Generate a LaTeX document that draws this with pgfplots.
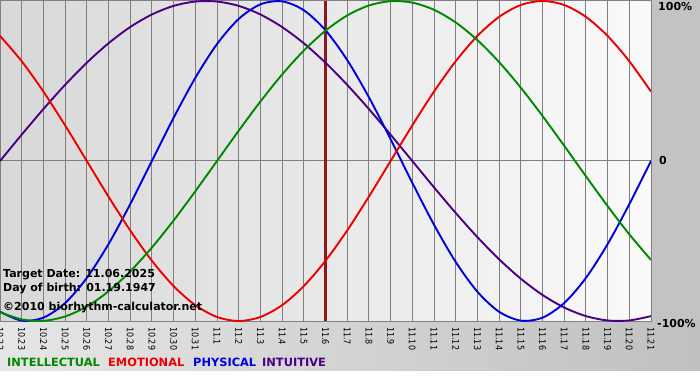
\documentclass[border=0pt]{standalone}
\usepackage{pgfplots}
\pgfplotsset{compat=1.18}
\usepackage{pgfplotstable}
\usepackage{fontspec}
\setmainfont{DejaVu Sans}
\newfontfamily\tickfont[FakeStretch=0.87]{DejaVu Sans}
\definecolor{gridgray}{HTML}{808080}
\definecolor{plotL}{HTML}{D8D8D8}
\definecolor{plotR}{HTML}{FAFAFA}
\definecolor{botL}{HTML}{E6E6E6}
\definecolor{botR}{HTML}{C0C0C0}
\definecolor{rgray}{HTML}{C3C3C3}
\definecolor{cint}{HTML}{008800}
\definecolor{cemo}{HTML}{EE0000}
\definecolor{cphy}{HTML}{0000DD}
\definecolor{cintu}{HTML}{4B0082}
\definecolor{tline}{HTML}{8B1A1A}
\pgfplotstableread{
t phys emo intel intu
0 -0.9423 0.7818 -0.9450 0
1 -0.9977 0.6235 -0.9898 0.1646
2 -0.9791 0.4339 -0.9989 0.3247
3 -0.8879 0.2225 -0.9718 0.4759
4 -0.7308 0 -0.9096 0.6142
5 -0.5196 -0.2225 -0.8146 0.7357
6 -0.2698 -0.4339 -0.6901 0.8372
7 0 -0.6235 -0.5406 0.9158
8 0.2698 -0.7818 -0.3717 0.9694
9 0.5196 -0.9010 -0.1893 0.9966
10 0.7308 -0.9749 0 0.9966
11 0.8879 -1 0.1893 0.9694
12 0.9791 -0.9749 0.3717 0.9158
13 0.9977 -0.9010 0.5406 0.8372
14 0.9423 -0.7818 0.6901 0.7357
15 0.8170 -0.6235 0.8146 0.6142
16 0.6311 -0.4339 0.9096 0.4759
17 0.3984 -0.2225 0.9718 0.3247
18 0.1362 0 0.9989 0.1646
19 -0.1362 0.2225 0.9898 0
20 -0.3984 0.4339 0.9450 -0.1646
21 -0.6311 0.6235 0.8660 -0.3247
22 -0.8170 0.7818 0.7557 -0.4759
23 -0.9423 0.9010 0.6182 -0.6142
24 -0.9977 0.9749 0.4582 -0.7357
25 -0.9791 1 0.2817 -0.8372
26 -0.8879 0.9749 0.0951 -0.9158
27 -0.7308 0.9010 -0.0951 -0.9694
28 -0.5196 0.7818 -0.2817 -0.9966
29 -0.2698 0.6235 -0.4582 -0.9966
30 0 0.4339 -0.6182 -0.9694
}\bio
\begin{document}
\begin{tikzpicture}[x=1pt,y=1pt]
\useasboundingbox (0,0) rectangle (700,380);
\clip (0,0) rectangle (700,380);
\fill[white] (0,0) rectangle (700,380);
\shade[left color=botL, right color=botR] (0,10) rectangle (700,59);
\fill[rgray] (651,59) rectangle (700,380);
\shade[left color=plotL, right color=plotR] (0,59) rectangle (651,380);
\begin{axis}[
  at={(0pt,59pt)}, anchor=south west,
  scale only axis, width=651pt, height=320pt,
  xmin=0, xmax=30, ymin=-1, ymax=1,
  axis line style={gridgray, line width=1pt},
  xtick={0,...,30},
  xticklabels={10.22,10.23,10.24,10.25,10.26,10.27,10.28,10.29,10.30,10.31,11.1,11.2,11.3,11.4,11.5,11.6,11.7,11.8,11.9,11.10,11.11,11.12,11.13,11.14,11.15,11.16,11.17,11.18,11.19,11.20,11.21},
  xticklabel style={overlay, rotate=-90, anchor=west, inner xsep=6pt, inner ysep=0pt, text=black, font=\tickfont\fontsize{9.2}{9.2}\selectfont},
  ytick={0}, yticklabels={},
  xmajorgrids, ymajorgrids,
  grid style={gridgray, line width=1pt},
  major tick length=0pt,
]
\addplot[tline, line width=2.2pt] coordinates {(15,-1) (15,1)};
\addplot[cintu, line width=1.9pt, smooth] table[x=t, y=intu] {\bio};
\addplot[cphy, line width=1.9pt, smooth] table[x=t, y=phys] {\bio};
\addplot[cemo, line width=1.9pt, smooth] table[x=t, y=emo] {\bio};
\addplot[cint, line width=1.9pt, smooth] table[x=t, y=intel] {\bio};
\end{axis}
\begin{scope}[font=\bfseries\fontsize{11}{11}\selectfont]
\node[anchor=base west, inner sep=0pt] at (3,102.5) {Target Date: 11.06.2025};
\node[anchor=base west, inner sep=0pt] at (3,89) {Day of birth: 01.19.1947};
\node[anchor=base west, inner sep=0pt] at (3,70) {©2010 biorhythm-calculator.net};
\end{scope}
\begin{scope}[font=\bfseries\fontsize{11.4}{11.4}\selectfont]
\node[anchor=base west, inner sep=0pt, text=cint] at (7,14) {INTELLECTUAL};
\node[anchor=base west, inner sep=0pt, text=cemo] at (108,14) {EMOTIONAL};
\node[anchor=base west, inner sep=0pt, text=cphy] at (193,14) {PHYSICAL};
\node[anchor=base west, inner sep=0pt, text=cintu] at (262,14) {INTUITIVE};
\end{scope}
\begin{scope}[font=\bfseries\fontsize{11}{11}\selectfont]
\node[anchor=base west, inner sep=0pt] at (658,369) {100\%};
\node[anchor=base west, inner sep=0pt] at (659,215) {0};
\node[anchor=base west, inner sep=0pt] at (657,53) {-100\%};
\end{scope}
\end{tikzpicture}
\end{document}
